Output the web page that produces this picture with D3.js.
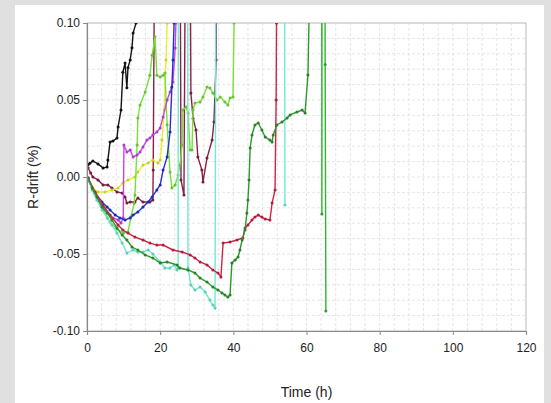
<!DOCTYPE html>
<html>
<head>
<meta charset="utf-8">
<script src="https://cdn.jsdelivr.net/npm/d3@7"></script>
<style>
  html, body { margin: 0; padding: 0; background: #e0e0e0; }
  #chart svg { display: block; font-family: 'Liberation Sans', Arial, sans-serif; }
</style>
</head>
<body>
<div id="chart"></div>
<script>
// hours vs R-drift (%) ; 0.2 = sample blew off the top of the chart
const blackRun = [[0.3,0.008],[0.8,0.009],[1.6,0.0104],[3.0,0.0085],[4.4,0.0058],[5.5,0.0065],[5.7,0.011],[6.3,0.0227],[7.1,0.0234],[8.2,0.0253],[8.5,0.0325],[9.3,0.0435],[9.8,0.068],[10.4,0.074],[10.9,0.058],[11.2,0.071],[11.8,0.076],[12.3,0.084],[12.6,0.0935],[13.4,0.1],[13.8,0.2]];
const maroonRun = [[0.3,0.006],[1.0,0.0026],[1.6,0.0],[3.0,-0.0019],[4.4,-0.0052],[5.7,-0.0052],[6.8,-0.0071],[8.2,-0.0097],[9.6,-0.0104],[10.4,-0.013],[10.9,-0.0169],[11.8,-0.0162],[13.1,-0.0162],[13.9,-0.0136],[15.3,-0.0162],[17.2,-0.0162],[18.0,-0.0149],[18.1,0.0045],[18.6,0.2],[25.4,0.2],[25.7,-0.0019],[26.5,-0.0117],[27.0,0.2],[28.1,0.2],[28.4,0.0545],[29.0,0.038],[29.8,0.0305],[30.3,0.013],[31.4,0.0045],[31.7,-0.0032],[32.8,0.0123],[34.2,0.024],[34.7,0.0357],[35.3,0.076],[35.6,0.2]];
const yellowRun = [[0.3,-0.001],[1.4,-0.0065],[3.0,-0.0097],[4.9,-0.0097],[6.8,-0.0084],[8.5,-0.0071],[9.8,-0.0039],[11.2,-0.0019],[13.1,0.0],[13.9,0.0032],[15.3,0.0078],[16.7,0.0091],[18.0,0.011],[19.4,0.0091],[20.0,0.011],[20.5,0.024],[21.1,0.0435],[21.6,0.076],[21.9,0.1],[22.1,0.2]];
const limeRun = [[0.3,-0.001],[2.2,-0.0117],[4.4,-0.0214],[6.3,-0.0292],[8.2,-0.0338],[10.0,-0.0364],[11.2,-0.0357],[12.0,-0.026],[12.9,-0.017],[13.1,-0.0117],[13.7,0.0208],[13.9,0.0383],[14.5,0.0468],[15.9,0.0552],[17.2,0.066],[17.8,0.079],[18.6,0.091],[19.1,0.066],[20.0,0.065],[20.8,0.066],[21.3,0.0675],[21.9,0.034],[22.7,0.0032],[23.2,-0.0071],[24.1,-0.0052],[24.9,0.0013],[25.4,0.0078],[26.0,0.0208],[26.2,0.0435],[27.1,0.0455],[27.6,0.0416],[28.2,0.0175],[28.7,0.0175],[29.0,0.0435],[29.5,0.048],[30.9,0.0487],[31.7,0.0519],[32.8,0.0584],[33.6,0.0578],[34.4,0.0545],[35.5,0.05],[36.4,0.0519],[37.7,0.0487],[38.5,0.0468],[39.1,0.0513],[39.9,0.0519],[40.2,0.1],[40.3,0.2]];
const magentaRun = [[0.3,-0.0006],[1.6,-0.0084],[3.0,-0.0149],[4.4,-0.0195],[5.7,-0.0234],[7.1,-0.0266],[8.5,-0.0279],[9.3,-0.0299],[9.9,-0.0266],[10.1,0.0208],[10.9,0.0162],[11.8,0.0175],[12.6,0.013],[13.7,0.0143],[14.5,0.0162],[15.3,0.0195],[16.4,0.024],[17.2,0.0253],[18.0,0.0273],[19.1,0.0292],[20.0,0.0318],[20.8,0.039],[21.9,0.05],[22.7,0.0552],[23.5,0.0617],[24.1,0.0838],[24.3,0.1],[24.4,0.2]];
const blueRun = [[0.3,-0.0019],[2.2,-0.0104],[4.1,-0.0162],[5.5,-0.0195],[6.3,-0.0214],[7.7,-0.0247],[9.0,-0.0266],[10.4,-0.0279],[11.8,-0.0266],[12.6,-0.0247],[13.9,-0.0227],[15.3,-0.0195],[16.7,-0.0162],[17.8,-0.013],[19.1,-0.0084],[20.0,-0.0052],[20.8,0.0045],[21.9,0.013],[22.7,0.0292],[23.2,0.0584],[23.5,0.076],[23.8,0.1],[24.0,0.2]];
const cyanRun = [[0.3,-0.0006],[1.4,-0.0084],[2.7,-0.0149],[4.1,-0.0214],[5.5,-0.0266],[6.8,-0.0312],[8.2,-0.0364],[9.6,-0.0429],[10.9,-0.0494],[12.6,-0.0474],[13.9,-0.0487],[15.3,-0.0487],[16.7,-0.0474],[18.0,-0.05],[20.0,-0.0552],[21.3,-0.0591],[22.7,-0.0591],[23.8,-0.0571],[24.6,-0.0604],[24.9,-0.0591],[25.0,0.2],[27.5,0.2],[27.6,-0.0591],[28.4,-0.0701],[29.5,-0.0734],[30.9,-0.0714],[32.3,-0.0747],[33.6,-0.0799],[34.4,-0.0831],[35.0,-0.0851],[35.3,0.2],[54.0,0.2],[54.1,-0.0182]];
const redRun = [[0.3,-0.0006],[2.2,-0.0097],[4.4,-0.0182],[6.3,-0.0247],[8.5,-0.0312],[9.8,-0.0344],[11.2,-0.0364],[13.1,-0.039],[15.3,-0.0409],[17.2,-0.0429],[19.1,-0.0442],[20.8,-0.0442],[23.5,-0.0474],[26.0,-0.0487],[28.2,-0.0506],[29.5,-0.0526],[30.9,-0.0552],[32.8,-0.0571],[34.4,-0.0604],[35.8,-0.0623],[36.6,-0.0649],[37.2,-0.0429],[39.1,-0.0422],[41.0,-0.0409],[42.6,-0.0396],[43.2,-0.0331],[44.0,-0.0312],[45.1,-0.0279],[45.9,-0.026],[46.8,-0.0247],[47.8,-0.026],[48.7,-0.0273],[50.0,-0.0279],[50.6,-0.0169],[51.4,-0.0084],[51.7,0.05],[51.8,0.1],[52.0,0.2]];
const greenRun = [[0.3,-0.0006],[1.4,-0.0071],[2.7,-0.013],[4.1,-0.0195],[5.5,-0.0234],[6.8,-0.0279],[8.2,-0.0331],[9.6,-0.0377],[10.9,-0.0409],[12.3,-0.0455],[13.9,-0.0474],[15.9,-0.0506],[18.0,-0.0526],[20.0,-0.0558],[21.9,-0.0552],[24.6,-0.0571],[25.4,-0.0591],[27.6,-0.0604],[29.5,-0.0623],[30.9,-0.0656],[32.8,-0.0682],[34.4,-0.0714],[35.8,-0.0734],[36.9,-0.0753],[37.7,-0.0766],[38.5,-0.0779],[39.1,-0.0766],[39.6,-0.0558],[40.5,-0.0539],[41.3,-0.0519],[41.8,-0.0474],[42.4,-0.0409],[43.2,-0.0344],[43.7,-0.0234],[44.0,-0.0149],[44.3,-0.0019],[44.6,0.0188],[45.1,0.0273],[45.9,0.0338],[46.8,0.0351],[47.8,0.0305],[48.7,0.026],[50.0,0.024],[50.6,0.0227],[50.9,0.0273],[51.9,0.0338],[53.3,0.0357],[54.7,0.0383],[55.5,0.0403],[57.4,0.0422],[58.8,0.0435],[59.6,0.0416],[60.4,0.0662],[60.7,0.105],[61.0,0.2]];
const green2Run = [[64.15,0.2],[64.2,-0.024],[64.25,0.2],[65.0,0.2],[65.1,0.073],[65.3,-0.087]];

const runs = [blackRun, maroonRun, yellowRun, limeRun, magentaRun, blueRun, cyanRun, redRun, greenRun, green2Run];
const runColors = ['#141414', '#8a2048', '#e9ee2a', '#78e03a', '#c845ea', '#2433c8', '#70ead0', '#cf2245', '#2f962f', '#2fb52f'];

const xTicks = [0, 20, 40, 60, 80, 100, 120];
const yTicks = [-0.10, -0.05, 0.00, 0.05, 0.10];
const xGrid = d3.range(4, 120, 4);
const yGrid = d3.range(-0.09, 0.1, 0.01);

const width = 551;
const height = 403;
const plot = { left: 87, right: 526, top: 23, bottom: 331 };

const svg = d3.select('#chart')
  .append('svg')
  .attr('width', width)
  .attr('height', height);

// white panel on the grey page
svg.append('rect')
  .attr('x', 15).attr('y', 5)
  .attr('width', 529).attr('height', height - 5)
  .attr('fill', '#ffffff');

const xScale = d3.scaleLinear().domain([0, 120]).range([plot.left, plot.right]);
const yScale = d3.scaleLinear().domain([-0.1, 0.1]).range([plot.bottom, plot.top]);

// dashed grid
const grid = svg.append('g').attr('class', 'grid')
  .attr('stroke', '#dedede').attr('stroke-dasharray', '3,2').attr('stroke-width', 0.8);
grid.selectAll('line.gx').data(xGrid).join('line')
  .attr('class', 'gx')
  .attr('x1', d => xScale(d)).attr('x2', d => xScale(d))
  .attr('y1', plot.top).attr('y2', plot.bottom);
grid.selectAll('line.gy').data(yGrid).join('line')
  .attr('class', 'gy')
  .attr('x1', plot.left).attr('x2', plot.right)
  .attr('y1', d => yScale(d)).attr('y2', d => yScale(d));

// frame
svg.append('rect')
  .attr('x', plot.left).attr('y', plot.top)
  .attr('width', plot.right - plot.left).attr('height', plot.bottom - plot.top)
  .attr('fill', 'none').attr('stroke', '#b8b8b8');

svg.append('clipPath').attr('id', 'clip')
  .append('rect')
  .attr('x', plot.left).attr('y', plot.top)
  .attr('width', plot.right - plot.left).attr('height', plot.bottom - plot.top);

const line = d3.line().x(d => xScale(d[0])).y(d => yScale(d[1]));

const lines = svg.append('g').attr('clip-path', 'url(#clip)');
runs.forEach((run, i) => {
  lines.append('path')
    .datum(run)
    .attr('d', line)
    .attr('fill', 'none')
    .attr('stroke', runColors[i])
    .attr('stroke-width', 1.4);
  lines.selectAll(null)
    .data(run.filter(d => d[1] <= 0.1))
    .join('circle')
    .attr('cx', d => xScale(d[0]))
    .attr('cy', d => yScale(d[1]))
    .attr('r', 1.5)
    .attr('fill', d3.color(runColors[i]).darker(0.4));
});

// axes
const yAxis = d3.axisLeft(yScale).tickValues(yTicks).tickFormat(d => d.toFixed(2)).tickSize(4).tickPadding(3);
const xAxis = d3.axisBottom(xScale).tickValues(xTicks).tickSize(4).tickPadding(8);

const gy = svg.append('g').attr('transform', `translate(${plot.left},0)`).call(yAxis);
const gx = svg.append('g').attr('transform', `translate(0,${plot.bottom})`).call(xAxis);
[gx, gy].forEach(g => {
  g.selectAll('.domain').attr('stroke', '#8a8a8a').attr('stroke-width', 1.2);
  g.selectAll('.tick line').attr('stroke', '#8a8a8a');
  g.selectAll('.tick text').attr('fill', '#222').style('font-size', '12px')
    .style('font-family', "'Liberation Sans', Arial, sans-serif");
});

svg.append('text')
  .attr('transform', `translate(38,${yScale(0)}) rotate(-90)`)
  .attr('text-anchor', 'middle')
  .attr('fill', '#222')
  .style('font-size', '14px')
  .text('R-drift (%)');

svg.append('text')
  .attr('x', (plot.left + plot.right) / 2)
  .attr('y', 397)
  .attr('text-anchor', 'middle')
  .attr('fill', '#222')
  .style('font-size', '14px')
  .text('Time (h)');
</script>
</body>
</html>
